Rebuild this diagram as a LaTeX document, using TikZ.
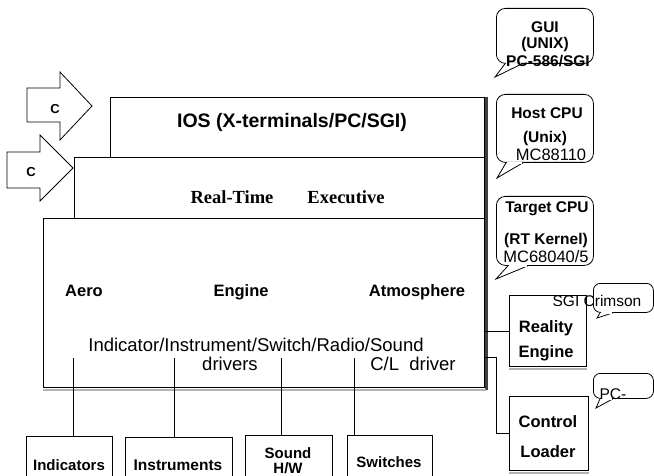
\documentclass[tikz,border=0pt]{standalone}
\usepackage{fontspec}
\setmainfont{Liberation Sans}
\newfontfamily\tms{Liberation Serif}
\begin{document}
\begin{tikzpicture}[x=1pt,y=-1pt,
  box/.style={draw, line width=0.8pt, anchor=north west, inner sep=0pt, fill=white},
  bubble/.style={draw, line width=0.8pt, anchor=north west, inner sep=0pt, rounded corners=9pt, fill=white},
  tail/.style={draw, line width=0.8pt, fill=white},
  conn/.style={draw, line width=0.8pt},
  lbl/.style={inner sep=0pt, font=\bfseries\fontsize{16.5}{18}\selectfont},
  big/.style={inner sep=0pt, font=\bfseries\fontsize{19.5}{22}\selectfont},
  rt/.style={inner sep=0pt, font=\tms\bfseries\fontsize{18.5}{20}\selectfont},
  drv/.style={inner sep=0pt, font=\fontsize{18.5}{20}\selectfont},
  bot/.style={inner sep=0pt, font=\bfseries\fontsize{15}{16}\selectfont},
  bub/.style={inner sep=0pt, font=\bfseries\fontsize{15.5}{16}\selectfont},
  bubr/.style={inner sep=0pt, font=\fontsize{16.5}{17}\selectfont},
  arr/.style={draw, line width=0.8pt, fill=white, line join=miter},
  shade/.style={line width=3pt, black!75},
  shadelt/.style={line width=2.5pt, black!30}]
\useasboundingbox (0,0) rectangle (654,476);

% block arrows
\draw[arr] (27,88) -- (60,88) -- (60,72) -- (92,106) -- (60,140) -- (60,122) -- (27,122) -- cycle;
\node[bot, font=\bfseries\fontsize{13}{14}\selectfont] (c1) at (55,109) {C};
\draw[arr] (7,152) -- (40,152) -- (40,135) -- (73,168) -- (40,201) -- (40,188) -- (7,188) -- cycle;
\node[bot, font=\bfseries\fontsize{13}{14}\selectfont] (c2) at (31,172) {C};

% main stacked boxes
\node[box, minimum width=374, minimum height=60] (ios) at (110,97) {};
\node[box, minimum width=410, minimum height=61] (rte) at (74,157) {};
\node[box, minimum width=441, minimum height=169] (main) at (43,218) {};
\draw[shade] ([xshift=2pt]ios.north east) -- ([xshift=2pt,yshift=-2pt]main.south east);
\draw[shadelt] ([yshift=-2pt]main.south west) -- ([xshift=1pt,yshift=-2pt]main.south east);

\node[big] (iost) at (292,122) {IOS (X-terminals/PC/SGI)};
\node[rt, anchor=base] (rt1) at (232,204) {Real-Time};
\node[rt, anchor=base] (rt2) at (346,204) {Executive};
\node[lbl, anchor=base] (aero) at (84,296) {Aero};
\node[lbl, anchor=base] (eng) at (241,296) {Engine};
\node[lbl, anchor=base] (atm) at (417,296) {Atmosphere};
\node[drv] (ind) at (256,345) {Indicator/Instrument/Switch/Radio/Sound};
\node[drv] (drivers) at (230,364) {drivers};
\node[drv] (cl) at (413,364) {C/L\ \ driver};

% bottom boxes
\node[box, minimum width=86, minimum height=44] (indb) at (26,436) {};
\node[bot] at (69,465) {Indicators};
\node[box, minimum width=107, minimum height=44] (insb) at (125,437) {};
\node[bot, font=\bfseries\fontsize{15.5}{16}\selectfont] at (178,465) {Instruments};
\node[box, minimum width=87, minimum height=45] (sndb) at (245,435) {};
\node[bot] at (288,453) {Sound};
\node[bot] at (288,468) {H/W};
\node[box, minimum width=85, minimum height=45] (swb) at (347,435) {};
\node[bot] at (389,462) {Switches};

\coordinate (d1) at (73,358);
\coordinate (d2) at (174,358);
\coordinate (d3) at (281,358);
\coordinate (d4) at (354,358);
\draw[conn] (d1) -- (d1 |- indb.north);
\draw[conn] (d2) -- (d2 |- insb.north);
\draw[conn] (d3) -- (d3 |- sndb.north);
\draw[conn] (d4) -- (d4 |- swb.north);

% right boxes
\node[box, minimum width=77, minimum height=71] (reb) at (509,295) {};
\node[lbl] at (546,328) {Reality};
\node[lbl] at (546,353) {Engine};
\node[box, minimum width=79, minimum height=74] (clb) at (509,396) {};
\node[lbl] at (548,422) {Control};
\node[lbl] at (548,452) {Loader};
\draw[shadelt] ([yshift=-2pt]reb.south west) -- ([yshift=-2pt]reb.south east);
\draw[shadelt] ([yshift=-2pt]clb.south west) -- ([yshift=-2pt]clb.south east);

\draw[conn] (reb.west) -- (reb.west -| main.east);
\coordinate (clj) at (496,357);
\draw[conn] (clj -| main.east) -- (clj) |- (clb.west);

% callout bubbles
\node[bubble, minimum width=97, minimum height=55] (gui) at (496,8) {};
\draw[tail] ([xshift=9pt]gui.south west) -- (495,77) -- ([xshift=26pt]gui.south west);
\draw[white, line width=1.6pt] ([xshift=10pt]gui.south west) -- ([xshift=25pt]gui.south west);
\node[bub] at (545,27) {GUI};
\node[bub] at (545,44) {(UNIX)};
\node[bub] at (548,61) {PC-586/SGI};

\node[bubble, minimum width=97, minimum height=68] (host) at (496,94) {};
\draw[tail] ([xshift=10pt]host.south west) -- (497,178) -- ([xshift=27pt]host.south west);
\draw[white, line width=1.6pt] ([xshift=11pt]host.south west) -- ([xshift=26pt]host.south west);
\node[bub] at (547,113) {Host CPU};
\node[bub] at (545,138) {(Unix)};
\node[bubr] at (551,155) {MC88110};

\node[bubble, minimum width=97, minimum height=69] (tgt) at (496,196) {};
\draw[tail] ([xshift=12pt]tgt.south west) -- (496,279) -- ([xshift=32pt]tgt.south west);
\draw[white, line width=1.6pt] ([xshift=13pt]tgt.south west) -- ([xshift=31pt]tgt.south west);
\node[bub] at (547,209) {Target CPU};
\node[bub] at (546,240) {(RT Kernel)};
\node[bubr] at (546,257) {MC68040/5};

\node[bubble, minimum width=60, minimum height=29, rounded corners=7pt] (sgi) at (593,283) {};
\draw[tail] ([xshift=7pt]sgi.south west) -- (597,318) -- ([xshift=20pt]sgi.south west);
\draw[white, line width=1.6pt] ([xshift=8pt]sgi.south west) -- ([xshift=19pt]sgi.south west);
\node[bubr, font=\fontsize{15.5}{16}\selectfont] at (597,301) {SGI Crimson};

\node[bubble, minimum width=60, minimum height=25, rounded corners=7pt] (pc) at (593,373) {};
\draw[tail] ([xshift=7pt]pc.south west) -- (596,408) -- ([xshift=20pt]pc.south west);
\draw[white, line width=1.6pt] ([xshift=8pt]pc.south west) -- ([xshift=19pt]pc.south west);
\node[bubr, font=\fontsize{15.5}{16}\selectfont] at (613,394) {PC-};
\end{tikzpicture}
\end{document}
